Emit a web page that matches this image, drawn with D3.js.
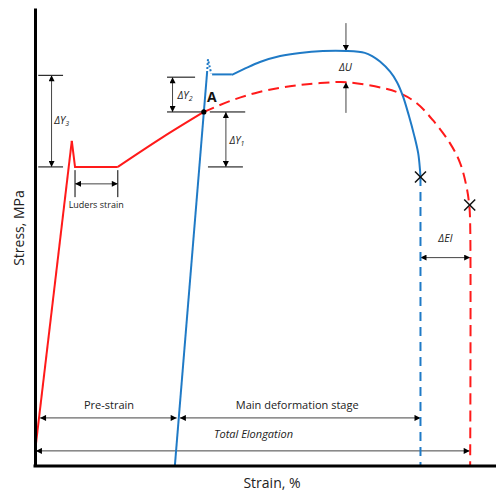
<!DOCTYPE html>
<html><head><meta charset="utf-8">
<script src="https://cdn.jsdelivr.net/npm/d3@7"></script>
<style>body{margin:0;background:#fff;} svg{display:block;font-family:"Open Sans",sans-serif;}</style>
</head><body><svg id="c" width="496" height="491"></svg>
<script>
// ---- data (strain units 0-100, stress units 0-100, schematic) ----
const redElastic   = [[0,3.1],[8.0,71.0]];
const redLuders    = [[8.0,71.0],[8.7,65.3],[18.0,65.3]];
const redHardening = [[18.0,65.3],[27.8,71.8],[36.7,77.3]];
const redDashed    = [[36.7,77.3],[42.4,79.7],[47.8,81.4],[53.3,82.6],[57.6,83.2],[62.0,83.6],[67.8,83.8],[75.7,82.5],[79.3,81.4],[83.0,79.2],[86.5,75.5],[90.2,70.5],[92.4,66.2],[93.8,61.0],[94.4,57.0],[94.6,53.0],[94.6,0]];
const blueElastic  = [[30.4,0],[37.4,85.8]];
const blueYield    = [[37.4,85.8],[37.6,88.8],[38.3,85.7]];
const bluePlateau  = [[38.5,85.5],[42.8,85.5]];
const blueHardening= [[42.8,85.4],[45.7,86.8],[48.9,88.2],[53.3,89.5],[57.6,90.2],[62.6,90.6],[67.8,90.6],[71.7,90.2],[73.3,89.5],[75.0,88.3],[77.2,86.1],[78.7,83.8],[80.0,80.7],[81.3,76.4],[82.4,72.3],[83.3,68.3],[83.7,64.6],[83.8,63.1]];
const blueDashed   = [[83.8,63.1],[83.8,0]];
const fractures    = [[83.8,63.1],[94.5,57.0]];
const pointA       = [36.7,77.3];

// dimension tick lines [x1,y1,x2,y2]
const dimLines = [
  [0.7,85.3,6.1,85.3],[0.7,65.3,6.1,65.3],
  [28.7,84.9,34.8,84.9],[28.7,77.3,36.7,77.3],
  [38.0,77.3,45.7,77.3],[37.6,65.3,45.2,65.3],
  [8.7,64.6,8.7,58.7],[18.0,64.6,18.0,58.7]
];
// arrows [x1,y1,x2,y2,headStart,headEnd]
const arrows = [
  [3.6,85.3,3.6,65.3,1,1],
  [8.7,61.6,18.0,61.6,1,1],
  [29.9,84.9,29.9,77.3,1,1],
  [41.5,77.3,41.5,65.3,1,1],
  [67.6,96.7,67.6,90.6,0,1],
  [67.6,77.1,67.6,83.8,0,1],
  [83.8,45.5,94.6,45.5,1,1],
  [1.1,10.5,30.8,10.5,1,1],
  [31.5,10.5,83.8,10.5,1,1],
  [0.2,3.3,94.5,3.3,1,1]
];
// labels
const deltaLabels = [
  {x:5.8, y:75.5, main:"ΔY", sub:"3"},
  {x:32.6,y:81.0, main:"ΔY", sub:"2"},
  {x:43.9,y:71.0, main:"ΔY", sub:"1"}
];
const textLabels = [
  {x:67.5,y:86.2,t:"ΔU",size:10.5,italic:true},
  {x:89.2,y:48.9,t:"ΔEl",size:10.5,italic:true},
  {x:13.3,y:56.3,t:"Luders strain",size:9,italic:false},
  {x:16.1,y:12.4,t:"Pre-strain",size:11,italic:false},
  {x:57.0,y:12.4,t:"Main deformation stage",size:11,italic:false},
  {x:47.5,y:6.1,t:"Total Elongation",size:11,italic:true}
];
const xTitle = "Strain, %", yTitle = "Stress, MPa";

// ---- drawing ----
const svg = d3.select("#c");
const x = d3.scaleLinear().domain([0,100]).range([35,495]);
const y = d3.scaleLinear().domain([0,100]).range([466,8]);

const defs = svg.append("defs");
defs.append("marker").attr("id","ah").attr("viewBox","0 0 10 10")
  .attr("refX",10).attr("refY",5).attr("markerWidth",8).attr("markerHeight",6)
  .attr("markerUnits","userSpaceOnUse").attr("orient","auto-start-reverse")
  .append("path").attr("d","M0,0L10,5L0,10z").attr("fill","#000");

const RED="#ff1a1a", BLUE="#1f7ac6";
const lin = d3.line().x(d=>x(d[0])).y(d=>y(d[1]));
const mono = d3.line().x(d=>x(d[0])).y(d=>y(d[1])).curve(d3.curveMonotoneX);
const smooth = d3.line().x(d=>x(d[0])).y(d=>y(d[1])).curve(d3.curveCatmullRom.alpha(0.5));

// dimension lines
svg.append("g").selectAll("line").data(dimLines).join("line")
  .attr("x1",d=>x(d[0])).attr("y1",d=>y(d[1])).attr("x2",d=>x(d[2])).attr("y2",d=>y(d[3]))
  .attr("stroke","#000").attr("stroke-width",1);
// arrows
svg.append("g").selectAll("line").data(arrows).join("line")
  .attr("x1",d=>x(d[0])).attr("y1",d=>y(d[1])).attr("x2",d=>x(d[2])).attr("y2",d=>y(d[3]))
  .attr("stroke","#444").attr("stroke-width",1)
  .attr("marker-start",d=>d[4]?"url(#ah)":null)
  .attr("marker-end",d=>d[5]?"url(#ah)":null);

// curves
const g = svg.append("g").attr("fill","none").attr("stroke-width",2);
g.append("path").attr("d",lin(redElastic)).attr("stroke",RED);
g.append("path").attr("d",lin(redLuders)).attr("stroke",RED).attr("stroke-linejoin","miter");
g.append("path").attr("d",mono(redHardening)).attr("stroke",RED);
g.append("path").attr("d",smooth(redDashed)).attr("stroke",RED).attr("stroke-dasharray","11,6");
g.append("path").attr("d",lin(blueElastic)).attr("stroke",BLUE);
g.append("path").attr("d",lin(blueYield)).attr("stroke",BLUE).attr("stroke-dasharray","2,2");
g.append("path").attr("d",lin(bluePlateau)).attr("stroke",BLUE);
g.append("path").attr("d",smooth(blueHardening)).attr("stroke",BLUE);
g.append("path").attr("d",lin(blueDashed)).attr("stroke",BLUE).attr("stroke-dasharray","9,6");

// fracture crosses
const cg = svg.append("g").attr("stroke","#111").attr("stroke-width",1.5);
fractures.forEach(p=>{
  const cx=x(p[0]), cy=y(p[1]), s=5.5;
  cg.append("line").attr("x1",cx-s).attr("y1",cy-s).attr("x2",cx+s).attr("y2",cy+s);
  cg.append("line").attr("x1",cx-s).attr("y1",cy+s).attr("x2",cx+s).attr("y2",cy-s);
});
// point A
svg.append("circle").attr("cx",x(pointA[0])).attr("cy",y(pointA[1])).attr("r",2.6).attr("fill","#000");
svg.append("text").attr("x",x(pointA[0])+8).attr("y",y(pointA[1])-10).attr("text-anchor","middle")
  .attr("font-size",14).attr("font-weight","bold").attr("fill","#111").text("A");

// delta labels
deltaLabels.forEach(l=>{
  const t = svg.append("text").attr("x",x(l.x)).attr("y",y(l.y)+3.5).attr("text-anchor","middle")
    .attr("font-size",10.5).attr("font-style","italic").attr("fill","#222");
  t.append("tspan").text(l.main);
  t.append("tspan").attr("font-size",7).attr("dy",2).text(l.sub);
});
svg.append("g").selectAll("text").data(textLabels).join("text")
  .attr("x",d=>x(d.x)).attr("y",d=>y(d.y)).attr("text-anchor","middle")
  .attr("font-size",d=>d.size).attr("font-style",d=>d.italic?"italic":"normal")
  .attr("fill","#222").text(d=>d.t);

// axes
svg.append("g").attr("transform",`translate(0,${y(0)})`)
  .call(d3.axisBottom(x).tickValues([]).tickSizeOuter(0))
  .call(a=>a.select(".domain").attr("stroke","#000").attr("stroke-width",3).attr("d",`M${x(0)-1.5},0H496`));
svg.append("g").attr("transform",`translate(${x(0)},0)`)
  .call(d3.axisLeft(y).tickValues([]).tickSizeOuter(0))
  .call(a=>a.select(".domain").attr("stroke","#000").attr("stroke-width",3));

svg.append("text").attr("x",272).attr("y",488).attr("text-anchor","middle")
  .attr("font-size",14).attr("fill","#222").text(xTitle);
svg.append("text").attr("transform","translate(24,228) rotate(-90)").attr("text-anchor","middle")
  .attr("font-size",14).attr("fill","#222").text(yTitle);
</script></body></html>
